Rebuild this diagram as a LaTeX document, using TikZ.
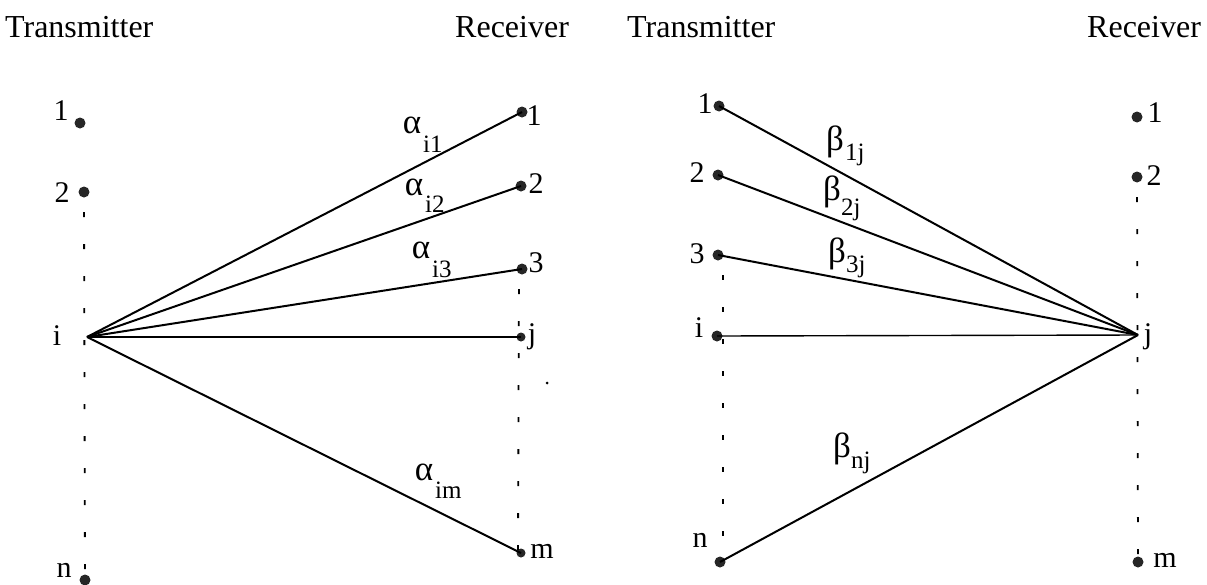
\documentclass[tikz,border=0pt]{standalone}
\usepackage{fontspec}
\setmainfont{Liberation Serif}
\begin{document}
\begin{tikzpicture}[x=1pt,y=-1pt,
  pt/.style={circle,fill=black!85,inner sep=0pt,minimum size=11pt},
  lbl/.style={anchor=base,inner sep=0pt,font=\fontsize{30}{30}\selectfont},
  head/.style={anchor=base west,inner sep=0pt,font=\fontsize{32}{32}\selectfont},
  link/.style={line width=2pt},
  thinlink/.style={line width=1.4pt},
  dotline/.style={line width=1.8pt,dash pattern=on 5pt off 27pt,dash phase=-20pt},
  greek/.style={anchor=base,inner sep=0pt,font=\fontsize{35}{35}\selectfont},
  subs/.style={anchor=base west,inner sep=0pt,font=\fontsize{25}{25}\selectfont}]
\useasboundingbox (0,0) rectangle (1207,584);
% headings
\node[head] (h1) at (5,37) {Transmitter};
\node[head] (h2) at (455,37) {Receiver};
\node[head] (h3) at (627,37) {Transmitter};
\node[head] (h4) at (1087,37) {Receiver};
% left transmitters
\node[pt] (t1) at (80,123) {};
\node[pt] (t2) at (84,192) {};
\coordinate (ti) at (87,337);
\node[pt] (tn) at (85,580) {};
\node[lbl] (lt1) at (61,120) {1};
\node[lbl] (lt2) at (62,202) {2};
\node[lbl] (lti) at (57,345) {i};
\node[lbl] (ltn) at (64,577) {n};
% left receivers
\node[pt] (r1) at (522,112) {};
\node[pt] (r2) at (521,186) {};
\node[pt] (r3) at (522,269) {};
\node[pt,minimum size=9pt] (rj) at (521,337) {};
\node[pt,minimum size=9pt] (rm) at (521,553) {};
\node[lbl] (lr1) at (534,125) {1};
\node[lbl] (lr2) at (536,193) {2};
\node[lbl] (lr3) at (536,272) {3};
\node[lbl] (lrj) at (532,343) {j};
\node[lbl] (lrm) at (542,558) {m};
% left dotted lines
\draw[dotline] (t2.center) -- (tn.center);
\draw[dotline] ([xshift=-3pt]r3.center) -- ([xshift=-3pt]rm.center);
% left links
\draw[link] (ti) -- (r1.center);
\draw[link] (ti) -- (r2.center);
\draw[link] (ti) -- (r3.center);
\draw[thinlink] (ti) -- (rj.center);
\draw[link] (ti) -- (rm.center);
% alpha labels
\node[greek] (a1) at (412,133) {α};
\node[subs] (a1s) at (423,152) {i1};
\node[greek] (a2) at (414,195) {α};
\node[subs] (a2s) at (425,212) {i2};
\node[greek] (a3) at (421,258) {α};
\node[subs] (a3s) at (432,277) {i3};
\node[greek] (am) at (424,480) {α};
\node[subs] (ams) at (435,498) {im};
% speck
\node[circle,fill=black,inner sep=0pt,minimum size=3pt] (sp) at (547,383) {};
% right transmitters
\node[pt] (T1) at (719,106) {};
\node[pt] (T2) at (718,175) {};
\node[pt] (T3) at (718,255) {};
\node[pt] (Ti) at (717,336) {};
\node[pt] (Tn) at (720,562) {};
\node[lbl] (lT1) at (705,113) {1};
\node[lbl] (lT2) at (697,182) {2};
\node[lbl] (lT3) at (697,263) {3};
\node[lbl] (lTi) at (699,337) {i};
\node[lbl] (lTn) at (700,547) {n};
% right receivers
\node[pt] (R1) at (1137,117) {};
\node[pt] (R2) at (1137,177) {};
\coordinate (Rj) at (1138,335);
\node[pt] (Rm) at (1138,562) {};
\node[lbl] (lR1) at (1155,122) {1};
\node[lbl] (lR2) at (1154,185) {2};
\node[lbl] (lRj) at (1148,343) {j};
\node[lbl] (lRm) at (1165,567) {m};
% right dotted lines
\draw[dotline] ([xshift=5pt]T3.center) -- ([xshift=3pt]Tn.center);
\draw[dotline] (R2.center) -- (Rm.center);
% right links
\draw[link] (T1.center) -- (Rj);
\draw[link] (T2.center) -- (Rj);
\draw[link] (T3.center) -- (Rj);
\draw[thinlink] (Ti.center) -- (Rj);
\draw[link] (Tn.center) -- (Rj);
% beta labels
\node[greek] (b1) at (835,150) {β};
\node[subs] (b1s) at (845,160) {1j};
\node[greek] (b2) at (832,200) {β};
\node[subs] (b2s) at (841,215) {2j};
\node[greek] (b3) at (837,262) {β};
\node[subs] (b3s) at (846,272) {3j};
\node[greek] (bn) at (842,457) {β};
\node[subs] (bns) at (851,468) {nj};
\end{tikzpicture}
\end{document}
